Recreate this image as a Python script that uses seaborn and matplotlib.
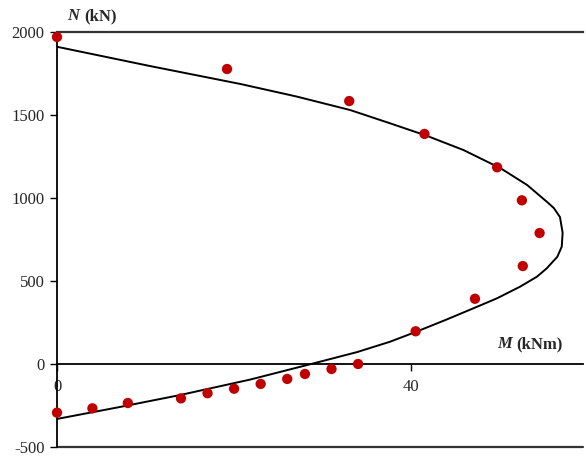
import numpy as np
import pandas as pd
import matplotlib
matplotlib.use("Agg")
import matplotlib.pyplot as plt
import seaborn as sns

# interaction curve (M in kNm, N in kN)
curve_m = [0, 10.5, 20.7, 27.0, 33.1, 37.5, 41.7, 45.9, 50.1, 53.1, 55.3, 56.1, 56.8,
           57.1, 57.0, 56.5, 55.3, 54.2, 52.3, 49.7, 47.0, 44.0, 40.6, 37.6, 33.9,
           28.7, 21.8, 13.9, 7.0, 0]
curve_n = [1911, 1795, 1687, 1612, 1530, 1452, 1376, 1289, 1179, 1078, 978, 940, 885,
           790, 707, 646, 576, 526, 466, 396, 335, 268, 195, 134, 72,
           0, -94, -187, -260, -331]

# test points
pts_m = [0, 19.2, 33.0, 41.5, 49.7, 52.5, 54.5, 52.6, 47.2, 40.5,
         34.0, 31.0, 28.0, 26.0, 23.0, 20.0, 17.0, 14.0, 8.0, 4.0, 0]
pts_n = [1970, 1777, 1584, 1386, 1185, 986, 789, 590, 393, 197,
         0, -30, -60, -90, -120, -149, -176, -207, -235, -267, -293]

curve = pd.DataFrame({"M": curve_m, "N": curve_n})
pts = pd.DataFrame({"M": pts_m, "N": pts_n})

sns.set_style("white")
plt.rcParams["font.family"] = ["Liberation Serif", "DejaVu Serif"]
plt.rcParams["axes.unicode_minus"] = False

fig = plt.figure(figsize=(5.86, 4.57), dpi=100)
ax = fig.add_axes([57 / 586, 1 - 447 / 457, (583 - 57) / 586, (447 - 32) / 457])

sns.lineplot(data=curve, x="M", y="N", sort=False, estimator=None, color="black",
             linewidth=1.4, ax=ax)
sns.scatterplot(data=pts, x="M", y="N", color="#C00000", s=55, edgecolor="none",
                clip_on=False, zorder=5, ax=ax)

ax.set_xlim(0, 59.4)
ax.set_ylim(-500, 2000)

ax.spines["right"].set_visible(False)
ax.spines["top"].set_color("#333333")
ax.spines["top"].set_linewidth(1.6)
ax.spines["left"].set_color("black")
ax.spines["left"].set_linewidth(1.3)
ax.spines["bottom"].set_position(("data", 0))
ax.spines["bottom"].set_color("black")
ax.spines["bottom"].set_linewidth(1.3)
ax.axhline(-500, color="#333333", linewidth=1.6, clip_on=False)

ax.set_xticks([0, 40])
ax.set_yticks([-500, 0, 500, 1000, 1500, 2000])
ax.tick_params(axis="both", direction="out", length=5, width=1, color="black",
               labelsize=12, bottom=True, left=True)
ax.tick_params(axis="x", pad=6)
ax.tick_params(axis="y", pad=4)
ax.set_xlabel("")
ax.set_ylabel("")

# axis titles: italic bold symbol + bold unit
fig.text(67 / 586, 1 - 16 / 457, "N", fontsize=12, fontweight="bold",
         fontstyle="italic", va="center", ha="left")
fig.text(84 / 586, 1 - 16 / 457, "(kN)", fontsize=12, fontweight="bold",
         va="center", ha="left")
fig.text(497 / 586, 1 - 344 / 457, "M", fontsize=12, fontweight="bold",
         fontstyle="italic", va="center", ha="left")
fig.text(516 / 586, 1 - 344 / 457, "(kNm)", fontsize=12, fontweight="bold",
         va="center", ha="left")

fig.savefig("out.png", dpi=100)
